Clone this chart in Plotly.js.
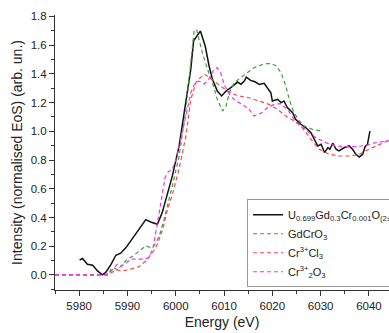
<!DOCTYPE html>
<html>
<head>
<meta charset="utf-8">
<script src="https://cdn.plot.ly/plotly-3.0.1.min.js"></script>
<style>html,body{margin:0;padding:0;background:#fff;}#chart{width:389px;height:333px;}</style>
</head>
<body>
<div id="chart"></div>
<script>
// Experimental sample
const expE = [5980.1,5980.7,5981.7,5982.8,5983.8,5984.8,5985.5,5986.6,5987.6,5988.6,5989.7,5990.7,5991.7,5992.8,5993.8,5994.8,5996.2,5997.2,5998.0,5999.3,6000.7,6002.1,6003.1,6003.7,6005.1,6006.1,6006.9,6007.6,6008.6,6009.5,6010.4,6011.4,6012.1,6012.8,6013.5,6014.2,6014.6,6015.5,6016.4,6017.3,6018.3,6019.0,6019.7,6020.0,6021.1,6021.8,6022.4,6023.1,6024.2,6024.8,6025.9,6026.9,6028.0,6028.7,6029.4,6030.1,6030.8,6031.5,6031.9,6032.5,6033.2,6033.8,6034.9,6035.9,6036.6,6037.3,6038.0,6038.7,6039.2,6039.7,6040.2];
const expI = [0.104,0.114,0.074,0.067,0.028,0.0,0.017,0.074,0.137,0.151,0.19,0.237,0.283,0.341,0.385,0.369,0.353,0.434,0.53,0.69,0.898,1.2,1.43,1.63,1.698,1.594,1.455,1.362,1.28,1.246,1.28,1.304,1.327,1.343,1.327,1.35,1.378,1.355,1.345,1.327,1.334,1.304,1.269,1.211,1.223,1.2,1.211,1.165,1.13,1.083,1.049,1.026,0.991,0.944,0.898,0.91,0.852,0.887,0.875,0.917,0.875,0.863,0.887,0.898,0.875,0.84,0.821,0.84,0.893,0.91,1.002];

// GdCrO3 reference
const gdE = [5975,5986,5986.6,5987.2,5987.9,5989,5990,5991,5992.1,5993.1,5993.8,5994.8,5995.5,5996.6,5997.6,5998.6,5999.3,6000.7,6002.1,6003.1,6003.8,6004.3,6004.6,6005.5,6006.6,6007.6,6008.6,6009.7,6010.4,6011.1,6012.1,6013.5,6014.5,6016.2,6018,6019.3,6020.7,6021.8,6022.8,6023.5,6024.2,6025.3,6026.6,6028.3,6030.1];
const gdI = [0,0,0.04,0.05,0.035,0.074,0.11,0.128,0.156,0.179,0.202,0.19,0.202,0.271,0.388,0.527,0.62,0.828,1.153,1.478,1.70,1.71,1.67,1.548,1.431,1.339,1.223,1.141,1.176,1.269,1.339,1.374,1.397,1.443,1.466,1.473,1.459,1.408,1.315,1.223,1.153,1.083,1.037,1.014,1.002];

// Cr3+Cl3 reference
const clE = [5975,5986,5987.6,5989,5990.7,5992.4,5993.8,5995.2,5996.2,5997.3,5998.3,5999.3,6000.7,6002.1,6003.1,6004.2,6004.8,6005.9,6006.9,6007.9,6009.3,6010.7,6012.1,6013.8,6015.2,6017.3,6019.3,6021.1,6022.8,6024.5,6026.2,6028,6029.7,6031.8,6033.8,6035.9,6038,6040,6042.1,6043.8,6046];
const clI = [0,0,0.035,0.028,0.04,0.058,0.097,0.156,0.214,0.318,0.457,0.56,0.74,0.967,1.22,1.34,1.365,1.397,1.38,1.35,1.315,1.28,1.257,1.241,1.234,1.211,1.188,1.153,1.106,1.072,1.026,0.944,0.875,0.84,0.828,0.828,0.84,0.875,0.91,0.933,0.95];

// Cr3+2O3 reference
const oxE = [5975,5985,5986.2,5987.2,5987.9,5988.6,5989.7,5990.7,5992.1,5993.5,5994.5,5995.3,5996,5996.7,5997.3,5997.8,5998.5,5999.2,6000,6000.7,6002.1,6003.1,6004.0,6004.8,6005.9,6006.8,6007.9,6008.6,6009.3,6010,6011.1,6012.4,6013.8,6015.2,6016.2,6017.6,6019,6020.4,6021.7,6023.1,6024.5,6025.9,6027.3,6029,6031.1,6033.1,6035.2,6037.3,6039.4,6041.4,6043.8,6046];
const oxI = [0,0,0.012,0.05,0.074,0.058,0.081,0.11,0.11,0.11,0.121,0.19,0.32,0.47,0.6,0.68,0.72,0.73,0.8,0.898,1.106,1.269,1.339,1.35,1.33,1.36,1.431,1.443,1.408,1.327,1.257,1.211,1.188,1.153,1.106,1.125,1.165,1.188,1.193,1.153,1.083,1.037,1.002,0.956,0.921,0.898,0.893,0.893,0.902,0.921,0.933,0.94];

const names = [
  'U<sub>0.699</sub>Gd<sub>0.3</sub>Cr<sub>0.001</sub>O<sub>(2±x)</sub>',
  'GdCrO<sub>3</sub>',
  'Cr<sup>3+</sup>Cl<sub>3</sub>',
  'Cr<sup>3+</sup><sub>2</sub>O<sub>3</sub>'
];

const traces = [
  {x: expE, y: expI, name: names[0], mode: 'lines', line: {color: '#111111', width: 1.5}},
  {x: gdE, y: gdI, name: names[1], mode: 'lines', line: {color: '#3f9f3f', width: 1.2, dash: '4px,3px'}},
  {x: clE, y: clI, name: names[2], mode: 'lines', line: {color: '#f04a4a', width: 1.2, dash: '4px,3px'}},
  {x: oxE, y: oxI, name: names[3], mode: 'lines', line: {color: '#ee33ee', width: 1.2, dash: '4px,3px'}}
];

const axisCommon = {
  showgrid: false, zeroline: false, showline: true, linecolor: '#333', linewidth: 1,
  ticks: 'outside', ticklen: 5, tickwidth: 1, tickcolor: '#333',
  tickfont: {family: 'Liberation Sans, Arial, sans-serif', size: 11.5, color: '#222'}
};

const layout = {
  width: 389, height: 333,
  margin: {l: 55, r: 0, t: 15, b: 43, autoexpand: false},
  paper_bgcolor: '#fff', plot_bgcolor: '#fff',
  font: {family: 'Liberation Sans, Arial, sans-serif', color: '#222'},
  showlegend: true,
  xaxis: Object.assign({}, axisCommon, {
    range: [5975, 6044.15], tickvals: [5980,5990,6000,6010,6020,6030,6040],
    minor: {tickvals: [5975,5985,5995,6005,6015,6025,6035], ticklen: 3, tickcolor: '#333', ticks: 'outside'},
    title: {text: 'Energy (eV)', font: {size: 14, color: '#222'}, standoff: 6}
  }),
  yaxis: Object.assign({}, axisCommon, {
    range: [-0.105, 1.81], tickvals: [0,0.2,0.4,0.6,0.8,1.0,1.2,1.4,1.6,1.8], tickformat: '.1f',
    minor: {tickvals: [-0.1,0.1,0.3,0.5,0.7,0.9,1.1,1.3,1.5,1.7], ticklen: 3, tickcolor: '#333', ticks: 'outside'},
    title: {text: 'Intensity (normalised EoS) (arb. un.)', font: {size: 14, color: '#222'}, standoff: 4}
  }),
  legend: {
    x: 0.575, y: 0.33, xanchor: 'left', yanchor: 'top',
    bordercolor: '#999', borderwidth: 1, bgcolor: '#fff',
    font: {size: 11, color: '#222'}
  }
};

Plotly.newPlot('chart', traces, layout, {displayModeBar: false, staticPlot: true});
</script>
</body>
</html>
